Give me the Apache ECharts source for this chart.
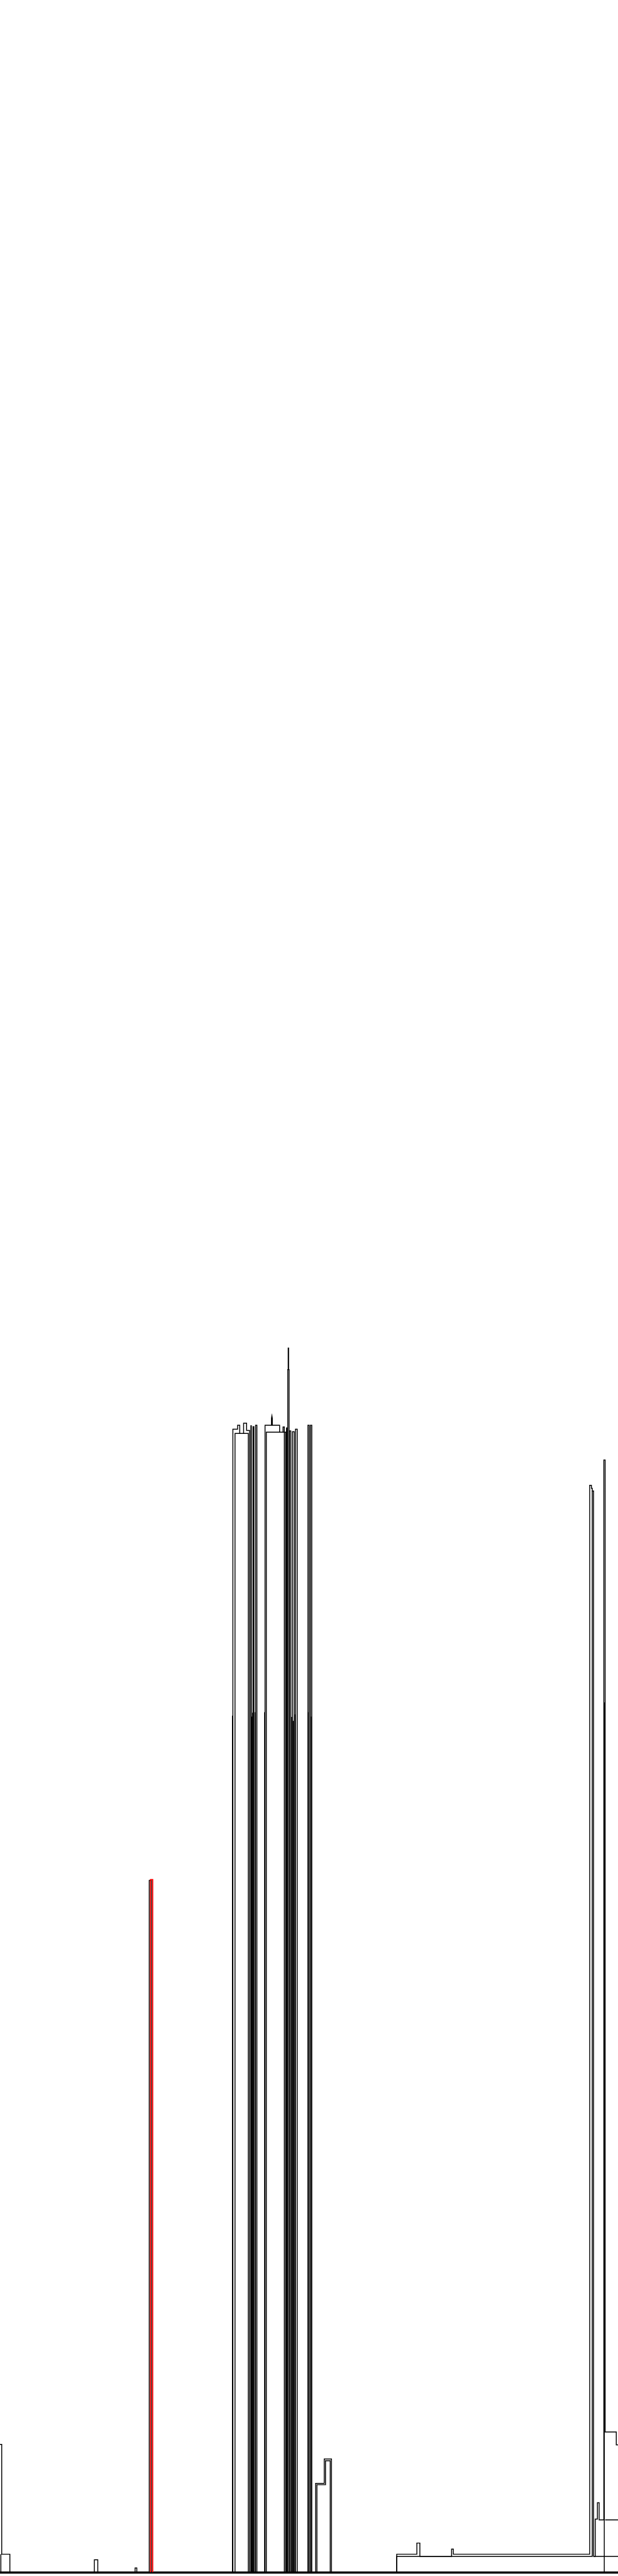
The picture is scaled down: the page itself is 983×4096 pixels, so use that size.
<!DOCTYPE html>
<html>
<head>
<meta charset="utf-8">
<script src="https://cdn.jsdelivr.net/npm/echarts@6/dist/echarts.min.js"></script>
<style>
html,body{margin:0;padding:0;background:#fff;}
#chart{width:983px;height:4096px;}
</style>
</head>
<body>
<div id="chart"></div>
<script>
// Positions along the street (x) and heights above the baseline (value units = reference px)
const westBlock = [[0,298],[4,298],[4,42],[23,42],[23,0],[220,0],[220,29],[228,29],[228,0],
  [315,0],[315,10],[319,10],[319,0],[348,0],[348,1613],[353,1613],[353,0]];
const westTower = [[543,0],[543,2665],[554,2665],[554,2674],[559,2674],[559,2655],[568,2655],[568,2679],
  [575,2679],[575,2662],[582,2662],[582,0],[579,0],[579,2655],[548,2655],[548,0],
  [585,0],[585,2673],[586,2673],[586,2],[590,2],[590,2671],[592,2671],[592,0],[596,0],[596,2674],[599,2674],[599,0]];
const midTower = [[618,0],[618,2674],[633,2674],[633,2690],[634,2696],[635,2690],[635,2674],[652,2674],
  [652,2658],[660,2658],[660,2670],[663,2670],[663,0],[621,0],[621,2658],[666,2658],[666,0],
  [668,0],[668,2668],[670,2668],[670,0],[671,0],[671,2804],[672,2804],[672,2854],[673,2854],[673,2804],[674,2804],[674,0],
  [675,0],[675,2661],[678,2661],[678,0],[682,0],[682,2659],[686,2659],[686,0],[689,0],[689,2665],[693,2665],[693,0],
  [718,0],[718,2674],[721,2674],[721,0],[724,0],[724,2674],[727,2674],[727,0]];
const lowBlock = [[736,0],[736,207],[756,207],[756,264],[773,264],[773,0],[770,0],[770,260],[759,260],[759,204],[739,204],[739,0]];
const eastBlock = [[925,0],[925,42],[972,42],[972,68],[979,68],[979,37],[1053,37],[1053,54],[1057,54],[1057,42],
  [1375,42],[1375,2534],[1379,2534],[1379,2527],[1381,2527],[1381,2521],[1384,2521],[1384,37],
  [1388,37],[1388,124],[1393,124],[1393,162],[1397,162],[1397,122],[1408,122],[1408,2593],[1411,2593],
  [1411,327],[1437,327],[1437,297],[1441,297]];
const innerLines = [
  [[2,0],[2,42]],
  [[542,0],[542,1997]], [[587,0],[587,1995]], [[589,0],[589,2004]], [[595,0],[595,2005]],
  [[617,0],[617,2005]], [[680,0],[680,1994]], [[684,0],[684,1985]], [[688,0],[688,2000]],
  [[718,0],[718,2005]], [[726,0],[726,1995]],
  [[925,0],[925,37],[1381,37],[1381,2521]], [[1384,37],[1441,37]], [[1411,122],[1441,122]],
  [[1409,0],[1409,2028]]
];
const redSpire = [[351,0],[351,1615],[356,1615],[356,0]];

const chart = echarts.init(document.getElementById('chart'), null, {renderer:'canvas'});
const black = {color:'#000', width:1.45, opacity:1};
const paths = [westBlock, westTower, midTower, lowBlock, eastBlock].map(p => ({coords:p}))
  .concat(innerLines.map(p => ({coords:p})));
chart.setOption({
  animation:false,
  backgroundColor:'#fff',
  grid:{left:0,right:0,top:0,bottom:6,containLabel:false},
  xAxis:{type:'value',min:0,max:1441,axisLine:{show:true,onZero:false,lineStyle:{color:'#000',width:3.4}},
    axisTick:{show:false},axisLabel:{show:false},splitLine:{show:false}},
  yAxis:{type:'value',min:0,max:5997,axisLine:{show:false},axisTick:{show:false},axisLabel:{show:false},splitLine:{show:false}},
  series:[
    {type:'lines',coordinateSystem:'cartesian2d',polyline:true,silent:true,lineStyle:black,data:paths,z:2},
    {type:'lines',coordinateSystem:'cartesian2d',polyline:true,silent:true,
      lineStyle:{color:'#ff0000',width:1.8,opacity:1},data:[{coords:redSpire}],z:3}
  ]
});
</script>
</body>
</html>
